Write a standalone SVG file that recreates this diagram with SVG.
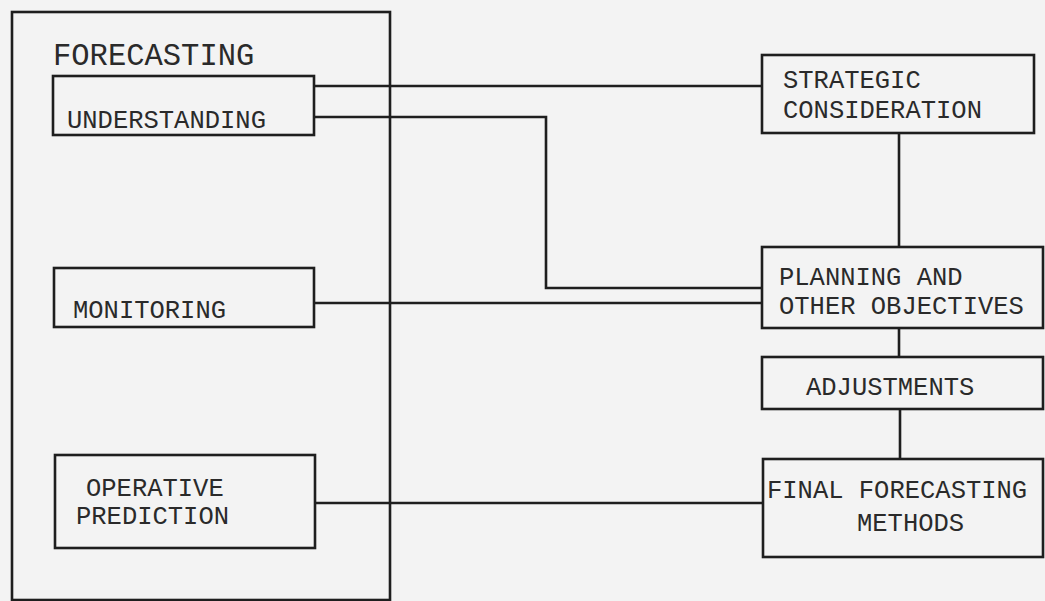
<svg xmlns="http://www.w3.org/2000/svg" width="1045" height="601" viewBox="0 0 1045 601">
<style>
.box{fill:none;stroke:#1e1e1e;stroke-width:2.6}
.lbl{font-family:"Liberation Mono","Courier New",monospace;font-size:25.5px;fill:#2a2a2a}
.conn{fill:none;stroke:#1e1e1e;stroke-width:2.6}
</style>
<rect x="0" y="0" width="1045" height="601" fill="#f3f3f3"/>
<g id="forecasting">
<rect class="box" x="12" y="12" width="378" height="588"/>
<text class="lbl" x="53" y="65" style="font-size:30.5px">FORECASTING</text>
</g>
<g id="understanding">
<rect class="box" x="53" y="76" width="261" height="59"/>
<text class="lbl" x="67" y="128">UNDERSTANDING</text>
</g>
<g id="monitoring">
<rect class="box" x="54" y="268" width="260" height="59"/>
<text class="lbl" x="73" y="318">MONITORING</text>
</g>
<g id="operative">
<rect class="box" x="55" y="455" width="260" height="93"/>
<text class="lbl" x="86" y="496">OPERATIVE</text>
<text class="lbl" x="76" y="524">PREDICTION</text>
</g>
<g id="strategic">
<rect class="box" x="762" y="55" width="272" height="78"/>
<text class="lbl" x="783" y="88">STRATEGIC</text>
<text class="lbl" x="783" y="118">CONSIDERATION</text>
</g>
<g id="planning">
<rect class="box" x="762" y="247" width="281" height="81"/>
<text class="lbl" x="779" y="285">PLANNING AND</text>
<text class="lbl" x="779" y="314">OTHER OBJECTIVES</text>
</g>
<g id="adjustments">
<rect class="box" x="762" y="357" width="281" height="52"/>
<text class="lbl" x="806" y="395">ADJUSTMENTS</text>
</g>
<g id="final">
<rect class="box" x="763" y="459" width="280" height="98"/>
<text class="lbl" x="767" y="498">FINAL FORECASTING</text>
<text class="lbl" x="857" y="531">METHODS</text>
</g>
<g id="connectors">
<path class="conn" d="M314 86 H762"/>
<path class="conn" d="M314 117 H546 V288 H762"/>
<path class="conn" d="M314 303 H762"/>
<path class="conn" d="M315 503 H763"/>
<path class="conn" d="M899 133 V247"/>
<path class="conn" d="M899 328 V357"/>
<path class="conn" d="M900 409 V459"/>
</g>
</svg>
